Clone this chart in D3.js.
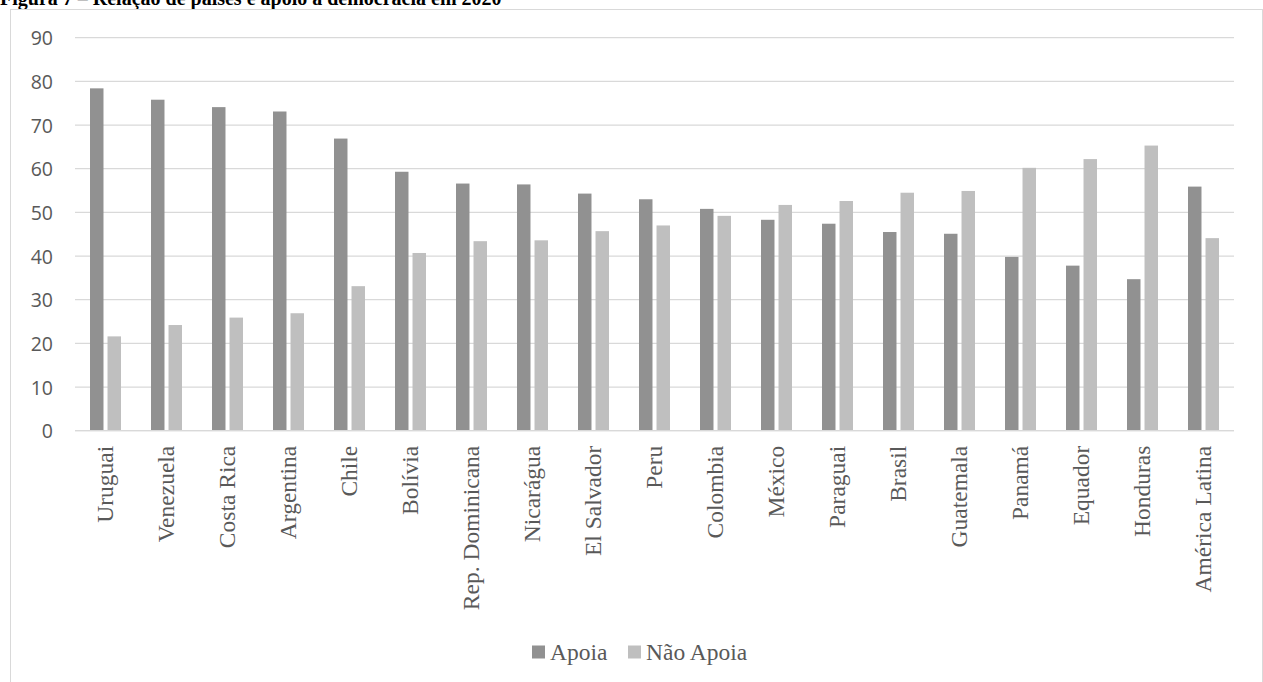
<!DOCTYPE html>
<html>
<head>
<meta charset="utf-8">
<script src="https://cdn.jsdelivr.net/npm/d3@7"></script>
<style>
  html, body { margin: 0; padding: 0; background: #fff; }
  svg { display: block; }
</style>
</head>
<body>
<div id="chart"></div>
<script>
const categories = ['Uruguai', 'Venezuela', 'Costa Rica', 'Argentina', 'Chile', 'Bolívia',
  'Rep. Dominicana', 'Nicarágua', 'El Salvador', 'Peru', 'Colombia', 'México', 'Paraguai',
  'Brasil', 'Guatemala', 'Panamá', 'Equador', 'Honduras', 'América Latina'];
const apoia = [78.4, 75.8, 74.1, 73.1, 66.9, 59.3, 56.6, 56.4, 54.3, 53.0, 50.8, 48.3, 47.4,
  45.5, 45.1, 39.8, 37.8, 34.7, 55.9];
const naoApoia = [21.6, 24.2, 25.9, 26.9, 33.1, 40.7, 43.4, 43.6, 45.7, 47.0, 49.2, 51.7, 52.6,
  54.5, 54.9, 60.2, 62.2, 65.3, 44.1];
const seriesNames = ['Apoia', 'Não Apoia'];
const yTicks = [0, 10, 20, 30, 40, 50, 60, 70, 80, 90];
const title = 'Figura 7 – Relação de países e apoio à democracia em 2020';

const W = 1263, H = 682;
const colors = { 'Apoia': '#919191', 'Não Apoia': '#bfbfbf' };
const plot = { left: 75, right: 1234, top: 37.7, bottom: 430.7 };

const rows = categories.map((c, i) => ({ cat: c, values: [apoia[i], naoApoia[i]] }));

const svg = d3.select('#chart').append('svg')
  .attr('width', W)
  .attr('height', H);

// title (the reference only shows its lower half)
svg.append('text')
  .attr('x', 0)
  .attr('y', 5)
  .attr('font-family', '"Liberation Serif", "Times New Roman", serif')
  .attr('font-weight', 'bold')
  .attr('font-size', 20)
  .attr('fill', '#000')
  .text(title);

// chart frame
svg.append('rect')
  .attr('x', 10.5)
  .attr('y', 9.5)
  .attr('width', 1252)
  .attr('height', 700)
  .attr('fill', '#fff')
  .attr('stroke', '#d9d9d9')
  .attr('stroke-width', 1);

const x0 = d3.scaleBand()
  .domain(categories)
  .range([plot.left, plot.right])
  .padding(0);

const x1 = d3.scaleBand()
  .domain(seriesNames)
  .range([x0.bandwidth() / 2 - 15.5, x0.bandwidth() / 2 + 15.5])
  .paddingInner(0.23);

const y = d3.scaleLinear()
  .domain([0, 90])
  .range([plot.bottom, plot.top]);

// gridlines
svg.append('g')
  .selectAll('line')
  .data(yTicks)
  .enter().append('line')
  .attr('x1', plot.left)
  .attr('x2', plot.right)
  .attr('y1', d => y(d))
  .attr('y2', d => y(d))
  .attr('stroke', '#d9d9d9')
  .attr('stroke-width', 1.2);

// y axis labels
const yAxis = svg.append('g')
  .attr('transform', `translate(${plot.left - 22},0)`)
  .call(d3.axisLeft(y).tickValues(yTicks).tickSize(0).tickPadding(0));
yAxis.select('.domain').remove();
yAxis.selectAll('text')
  .attr('font-family', '"Open Sans", sans-serif')
  .attr('font-size', 19.5)
  .attr('fill', '#595959')
  .attr('dy', '0.36em');

// bars
const groups = svg.append('g')
  .selectAll('g')
  .data(rows)
  .enter().append('g')
  .attr('transform', d => `translate(${x0(d.cat)},0)`);

groups.selectAll('rect')
  .data(d => d.values.map((v, i) => ({ key: seriesNames[i], value: v })))
  .enter().append('rect')
  .attr('x', d => x1(d.key))
  .attr('y', d => y(d.value))
  .attr('width', x1.bandwidth())
  .attr('height', d => y(0) - y(d.value))
  .attr('fill', d => colors[d.key]);

// x axis line
svg.append('line')
  .attr('x1', plot.left)
  .attr('x2', plot.right)
  .attr('y1', y(0))
  .attr('y2', y(0))
  .attr('stroke', '#d9d9d9')
  .attr('stroke-width', 1.2);

// category labels, rotated
const xAxis = svg.append('g')
  .attr('transform', `translate(0,${y(0)})`)
  .call(d3.axisBottom(x0).tickSize(0).tickPadding(0));
xAxis.select('.domain').remove();
xAxis.selectAll('text')
  .attr('font-family', '"Liberation Serif", "Times New Roman", serif')
  .attr('font-size', 23.5)
  .attr('fill', '#595959')
  .attr('text-anchor', 'end')
  .attr('transform', 'rotate(-90)')
  .attr('x', -15)
  .attr('y', 0)
  .attr('dy', '0.32em');

// legend
const legend = svg.append('g').attr('transform', 'translate(532,652)');
const legendX = [0, 96];
seriesNames.forEach((s, i) => {
  const g = legend.append('g').attr('transform', `translate(${legendX[i]},0)`);
  g.append('rect')
    .attr('x', 0)
    .attr('y', -6.5)
    .attr('width', 13)
    .attr('height', 13)
    .attr('fill', colors[s]);
  g.append('text')
    .attr('x', 18)
    .attr('y', 0)
    .attr('dy', '0.32em')
    .attr('font-family', '"Liberation Serif", "Times New Roman", serif')
    .attr('font-size', 23.5)
    .attr('fill', '#595959')
    .text(s);
});
</script>
</body>
</html>
